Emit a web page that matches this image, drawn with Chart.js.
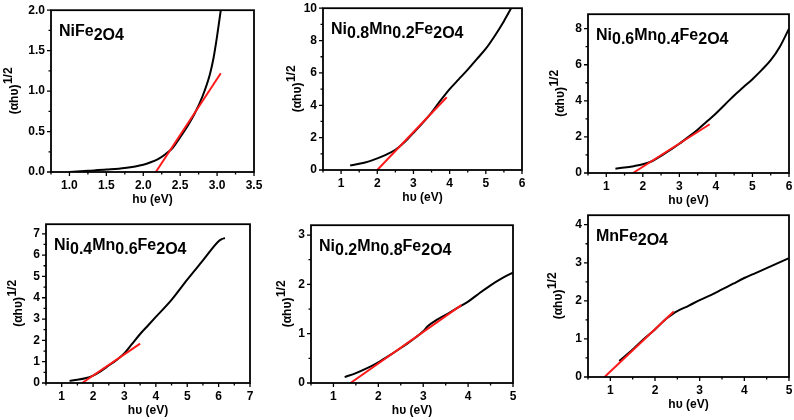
<!DOCTYPE html>
<html>
<head>
<meta charset="utf-8">
<script src="https://cdn.jsdelivr.net/npm/chart.js@4"></script>
<style>
  html, body { margin: 0; padding: 0; background: #fff; overflow: hidden; }
  body { width: 794px; height: 420px; position: relative; }
  .cell { position: absolute; }
</style>
</head>
<body>
<script>
// sample names, text in {} is set lowered like in the figure
const sampleNames = ['NiFe{2O4}', 'Ni{0.8}Mn{0.2}Fe{2O4}', 'Ni{0.6}Mn{0.4}Fe{2O4}',
                     'Ni{0.4}Mn{0.6}Fe{2O4}', 'Ni{0.2}Mn{0.8}Fe{2O4}', 'MnFe{2O4}'];

// photon energy (eV) and (αhυ)^1/2 for each sample
const energy1 = [1.0, 1.25, 1.5, 1.75, 2.0, 2.1, 2.2, 2.3, 2.4, 2.5, 2.6, 2.7, 2.8, 2.9, 2.95, 3.0, 3.05];
const tauc1   = [0.0, 0.015, 0.03, 0.05, 0.09, 0.12, 0.16, 0.22, 0.30, 0.43, 0.57, 0.73, 0.93, 1.2, 1.4, 1.68, 2.0];
const energy2 = [1.25, 1.5, 1.75, 2.0, 2.25, 2.5, 2.75, 3.0, 3.25, 3.5, 3.75, 4.0, 4.25, 4.5, 4.75, 5.0, 5.25, 5.5, 5.7];
const tauc2   = [0.28, 0.38, 0.52, 0.72, 0.95, 1.25, 1.72, 2.3, 2.9, 3.55, 4.3, 5.0, 5.6, 6.2, 6.85, 7.5, 8.3, 9.2, 10.0];
const energy3 = [1.25, 1.5, 1.75, 2.0, 2.25, 2.5, 2.75, 3.0, 3.25, 3.5, 3.75, 4.0, 4.25, 4.5, 4.75, 5.0, 5.25, 5.5, 5.75, 6.0];
const tauc3   = [0.24, 0.3, 0.38, 0.48, 0.65, 0.95, 1.28, 1.62, 2.0, 2.4, 2.85, 3.3, 3.8, 4.3, 4.75, 5.2, 5.7, 6.25, 7.0, 8.0];
const energy4 = [1.25, 1.5, 1.75, 2.0, 2.25, 2.5, 2.75, 3.0, 3.25, 3.5, 3.75, 4.0, 4.5, 5.0, 5.5, 6.0, 6.1, 6.2];
const tauc4   = [0.1, 0.15, 0.22, 0.35, 0.56, 0.82, 1.08, 1.4, 1.85, 2.3, 2.7, 3.1, 3.9, 4.85, 5.75, 6.65, 6.75, 6.8];
const energy5 = [1.25, 1.5, 1.75, 2.0, 2.25, 2.5, 2.75, 3.0, 3.1, 3.25, 3.5, 3.75, 4.0, 4.25, 4.5, 4.75, 5.0];
const tauc5   = [0.12, 0.2, 0.3, 0.42, 0.56, 0.71, 0.87, 1.05, 1.15, 1.25, 1.38, 1.52, 1.65, 1.82, 1.98, 2.12, 2.24];
const energy6 = [1.2, 1.5, 1.75, 2.0, 2.25, 2.4, 2.5, 2.75, 3.0, 3.25, 3.5, 3.75, 4.0, 4.25, 4.5, 4.75, 5.0];
const tauc6   = [0.42, 0.72, 1.0, 1.25, 1.53, 1.66, 1.73, 1.87, 2.02, 2.15, 2.3, 2.45, 2.6, 2.73, 2.86, 2.99, 3.12];

// red linear fits: [x start, x end] and [y start, y end]
const fitX = [[2.17, 3.05], [2.0, 3.92], [1.73, 3.83], [1.65, 3.5], [1.38, 3.85], [0.87, 2.42]];
const fitY = [[0, 1.22], [0, 4.5], [0, 2.7], [0, 1.85], [0, 1.58], [0, 1.72]];

// axis ranges and tick labels
const xRange = [[0.75, 3.5], [0.5, 6], [0.5, 6], [0.5, 7], [0.5, 5], [0.5, 5]];
const yRange = [[0, 2.0], [0, 10], [0, 8.8], [0, 7.45], [0, 3.2], [0, 4.25]];
const xTicks = [[1.0, 1.5, 2.0, 2.5, 3.0, 3.5], [1, 2, 3, 4, 5, 6], [1, 2, 3, 4, 5, 6],
                [1, 2, 3, 4, 5, 6, 7], [1, 2, 3, 4, 5], [1, 2, 3, 4, 5]];
const yTicks = [[0, 0.5, 1.0, 1.5, 2.0], [0, 2, 4, 6, 8, 10], [0, 2, 4, 6, 8],
                [0, 1, 2, 3, 4, 5, 6, 7], [0, 1, 2, 3], [0, 1, 2, 3, 4]];
const decimals = [1, 0, 0, 0, 0, 0];

const energies = [energy1, energy2, energy3, energy4, energy5, energy6];
const taucs = [tauc1, tauc2, tauc3, tauc4, tauc5, tauc6];

// plot rectangles on the page [left, top, right, bottom] and y-title offset
const boxes = [[51, 9, 254, 172], [323, 7, 522, 170], [588, 13, 789, 173],
               [46, 223, 250, 383], [311, 224, 513, 383], [588, 214, 789, 377]];
const yTitleOff = [-38, -27, -29, -29, -25, -31];

const AX_W = 48, AX_H = 38, PAD_T = 8, PAD_R = 12;
const FAM = '"Liberation Sans", Arial, sans-serif';

function drawRich(ctx, text, x, y) {
  const parts = text.split(/(\{[^}]*\})/).filter(s => s.length);
  let cx = x;
  ctx.textAlign = 'left';
  ctx.textBaseline = 'alphabetic';
  ctx.font = 'bold 16px ' + FAM;
  parts.forEach(p => {
    const low = p[0] === '{';
    const s = low ? p.slice(1, -1) : p;
    ctx.fillText(s, cx, low ? y + 4 : y);
    cx += ctx.measureText(s).width;
  });
}

const framePlugin = {
  id: 'frame',
  afterDraw(chart) {
    const ctx = chart.ctx;
    const a = chart.chartArea;
    const xs = chart.scales.x, ys = chart.scales.y;
    const i = chart.options.plugins.frame.index;
    ctx.save();
    ctx.strokeStyle = '#000';
    ctx.fillStyle = '#000';
    ctx.lineWidth = 1.8;
    ctx.strokeRect(a.left, a.top, a.right - a.left, a.bottom - a.top);

    // major and minor ticks pointing out
    ctx.lineWidth = 1.3;
    ctx.beginPath();
    const xt = xTicks[i], yt = yTicks[i];
    const xStep = xt[1] - xt[0], yStep = yt[1] - yt[0];
    for (let v = xt[0] - xStep / 2; v <= xRange[i][1] + 1e-9; v += xStep / 2) {
      if (v < xRange[i][0] - 1e-9) continue;
      const px = xs.getPixelForValue(v);
      const major = xt.some(t => Math.abs(t - v) < 1e-6);
      ctx.moveTo(px, a.bottom);
      ctx.lineTo(px, a.bottom + (major ? 4 : 2.5));
    }
    for (let v = yt[0]; v <= yRange[i][1] + 1e-9; v += yStep / 2) {
      const py = ys.getPixelForValue(v);
      const major = yt.some(t => Math.abs(t - v) < 1e-6);
      ctx.moveTo(a.left, py);
      ctx.lineTo(a.left - (major ? 4 : 2.5), py);
    }
    ctx.stroke();

    // x title
    ctx.font = 'bold 12px ' + FAM;
    ctx.textAlign = 'center';
    ctx.textBaseline = 'middle';
    ctx.fillText('h\u03c5 (eV)', (a.left + a.right) / 2, a.bottom + 28);

    // y title with superscript
    ctx.translate(a.left + yTitleOff[i], (a.top + a.bottom) / 2);
    ctx.rotate(-Math.PI / 2);
    const main = '(\u03b1h\u03c5)', sup = '1/2';
    ctx.font = 'bold 12px ' + FAM;
    const w1 = ctx.measureText(main).width;
    const w2 = ctx.measureText(sup).width;
    const sx = -(w1 + w2) / 2;
    ctx.textAlign = 'left';
    ctx.textBaseline = 'alphabetic';
    ctx.fillText(main, sx, 5);
    ctx.fillText(sup, sx + w1 + 0.5, -1);
    ctx.restore();

    ctx.save();
    ctx.fillStyle = '#000';
    drawRich(ctx, sampleNames[i], a.left + 8, a.top + 26);
    ctx.restore();
  }
};

boxes.forEach((b, i) => {
  const [L, T, R, B] = b;
  const div = document.createElement('div');
  div.className = 'cell';
  const w = (R - L) + AX_W + PAD_R;
  const h = (B - T) + PAD_T + AX_H;
  div.style.left = (L - AX_W) + 'px';
  div.style.top = (T - PAD_T) + 'px';
  div.style.width = w + 'px';
  div.style.height = h + 'px';
  const canvas = document.createElement('canvas');
  canvas.width = w;
  canvas.height = h;
  div.appendChild(canvas);
  document.body.appendChild(div);

  const points = energies[i].map((x, k) => ({ x: x, y: taucs[i][k] }));
  const fit = fitX[i].map((x, k) => ({ x: x, y: fitY[i][k] }));

  new Chart(canvas.getContext('2d'), {
    type: 'line',
    data: {
      datasets: [{
        // fit line first so it is drawn over the curve
        data: fit,
        borderColor: '#ff1a1a',
        borderWidth: 2,
        pointRadius: 0
      }, {
        data: points,
        borderColor: '#000',
        borderWidth: 2,
        pointRadius: 0,
        cubicInterpolationMode: 'monotone'
      }]
    },
    options: {
      responsive: false,
      animation: false,
      layout: { padding: { top: PAD_T, right: PAD_R, left: 0, bottom: 0 } },
      plugins: { legend: { display: false }, tooltip: { enabled: false }, frame: { index: i } },
      scales: {
        x: {
          type: 'linear',
          min: xRange[i][0],
          max: xRange[i][1],
          afterBuildTicks: s => { s.ticks = xTicks[i].map(v => ({ value: v })); },
          afterFit: s => { s.height = AX_H; },
          grid: { display: false, drawTicks: true, tickLength: 4 },
          border: { display: false },
          ticks: {
            padding: 2, color: '#000', font: { family: FAM, size: 12, weight: 'bold' },
            maxRotation: 0, autoSkip: false,
            callback: v => Number(v).toFixed(decimals[i])
          }
        },
        y: {
          type: 'linear',
          min: yRange[i][0],
          max: yRange[i][1],
          afterBuildTicks: s => { s.ticks = yTicks[i].map(v => ({ value: v })); },
          afterFit: s => { s.width = AX_W; },
          grid: { display: false, drawTicks: true, tickLength: 4 },
          border: { display: false },
          ticks: {
            padding: 2, color: '#000', font: { family: FAM, size: 12, weight: 'bold' },
            autoSkip: false,
            callback: v => Number(v).toFixed(decimals[i])
          }
        }
      }
    },
    plugins: [framePlugin]
  });
});
</script>
</body>
</html>
